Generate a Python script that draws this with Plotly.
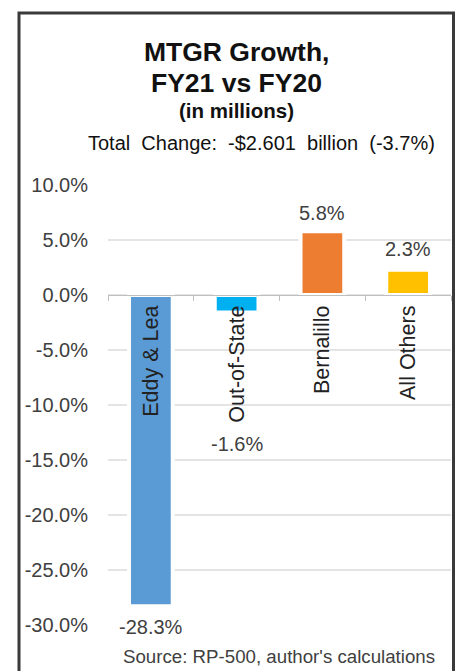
import plotly.graph_objects as go

# ---- data ----
categories = ["Eddy & Lea", "Out-of-State", "Bernalillo", "All Others"]
growth_pct = [-28.3, -1.6, 5.8, 2.3]
bar_colors = ["#5B9BD5", "#00B0F0", "#ED7D31", "#FFC000"]
y_tick_values = [10, 5, 0, -5, -10, -15, -20, -25, -30]
y_tick_labels = [f"{v:.1f}%" for v in y_tick_values]

title_lines = ["MTGR Growth,", "FY21 vs FY20", "(in millions)"]
subtitle = "Total Change: -$2.601 billion (-3.7%)"
source_note = "Source: RP-500, author's calculations"

# ---- style ----
FONT = "Liberation Sans, Arial, sans-serif"
TXT = "#404040"
label_shift = [-8, -118, 5, 8]  # pixel offset of each data label from bar end

W, H = 458, 671
L, R, T, B = 108, 7, 185, 46
plot_h = H - T - B
plot_w = W - L - R


def px_x(x):
    return (x - L) / plot_w


def px_y(y):
    return (H - B - y) / plot_h


fig = go.Figure()
fig.add_trace(go.Bar(
    x=categories,
    y=growth_pct,
    width=0.51,
    marker=dict(color=bar_colors, line=dict(color="white", width=4)),
    showlegend=False,
    hoverinfo="x+y",
))

annotations = []
for cat, v, s in zip(categories, growth_pct, label_shift):
    annotations.append(dict(
        x=cat, y=v, xref="x", yref="y", text=f"{v:.1f}%", showarrow=False,
        yanchor="bottom" if v >= 0 else "top", yshift=s,
        font=dict(family=FONT, size=20, color=TXT),
    ))

title_specs = [(title_lines[0], 52, 26.5), (title_lines[1], 83, 26.5), (title_lines[2], 110, 20.5)]
for txt, yy, sz in title_specs:
    annotations.append(dict(
        x=px_x(236.5), y=px_y(yy), xref="paper", yref="paper", text=f"<b>{txt}</b>",
        showarrow=False, xanchor="center", yanchor="middle",
        font=dict(family=FONT, size=sz, color="#111111"),
    ))
annotations.append(dict(
    x=px_x(261), y=px_y(143), xref="paper", yref="paper",
    text=subtitle.replace(" ", "\u00a0 "),
    showarrow=False, xanchor="center", yanchor="middle",
    font=dict(family=FONT, size=20, color="#111111"),
))
annotations.append(dict(
    x=px_x(278.5), y=px_y(656), xref="paper", yref="paper", text=source_note,
    showarrow=False, xanchor="center", yanchor="middle",
    font=dict(family=FONT, size=18.7, color=TXT),
))

fig.update_layout(
    width=W, height=H,
    margin=dict(l=L, r=R, t=T, b=B, pad=0),
    paper_bgcolor="white", plot_bgcolor="white",
    font=dict(family=FONT, color=TXT),
    annotations=annotations,
    shapes=[dict(
        type="rect", xref="paper", yref="paper",
        x0=px_x(19), x1=px_x(453.5), y0=px_y(700), y1=px_y(13),
        line=dict(color="#3A3A3A", width=3), fillcolor="rgba(0,0,0,0)", layer="above",
    )],
    bargap=0.49,
)

fig.update_yaxes(
    range=[-30, 10],
    tickvals=y_tick_values, ticktext=y_tick_labels,
    showgrid=True, gridcolor="#E4E4E4", gridwidth=1.5,
    zeroline=False, showline=False, ticks="",
    ticklabelstandoff=19,
    tickfont=dict(family=FONT, size=20, color=TXT),
)
fig.update_xaxes(
    type="category", range=[-0.5, 3.5],
    anchor="free", position=0.75,
    showgrid=False, zeroline=False,
    showline=True, linecolor="#BFBFBF", linewidth=1,
    ticks="outside", tickson="boundaries", ticklen=5, tickcolor="#BFBFBF",
    tickangle=-90, ticklabelstandoff=1,
    tickfont=dict(family=FONT, size=21.5, color="#222222"),
)

fig.write_html(
    "out.html",
    config={"displayModeBar": False},
    post_script="document.body.style.margin='0';document.body.style.overflow='hidden';",
)
